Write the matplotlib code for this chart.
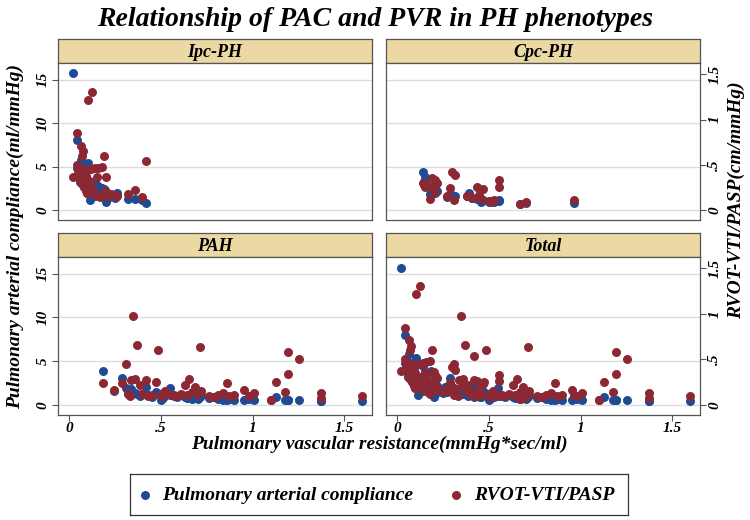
import matplotlib.pyplot as plt
import numpy as np

plt.rcParams['font.family'] = ['Liberation Serif', 'DejaVu Serif']
plt.rcParams['font.weight'] = 'bold'
plt.rcParams['font.style'] = 'italic'

# Ipc-PH : PVR, PAC, RVOT-VTI/PASP
ipc_pvr = [0.02, 0.127, 0.103, 0.045, 0.063, 0.076, 0.07, 0.19, 0.043, 0.42,
           0.20, 0.05, 0.08, 0.10, 0.12, 0.14, 0.16, 0.18, 0.06, 0.07,
           0.09, 0.11, 0.12, 0.13, 0.15, 0.09, 0.10, 0.116, 0.14, 0.17,
           0.196, 0.21, 0.26, 0.25, 0.32, 0.36, 0.395, 0.23, 0.08, 0.065]
ipc_pac = [15.7, 2.6, 5.4, 8.0, 5.8, 4.8, 3.5, 2.4, 4.8, 0.85,
           0.95, 5.2, 4.0, 3.6, 3.0, 3.3, 2.8, 2.5, 3.2, 3.7,
           2.9, 2.2, 1.8, 2.4, 2.0, 2.6, 1.9, 1.15, 1.6, 1.8,
           2.3, 1.4, 2.0, 1.4, 1.3, 1.3, 1.1, 1.6, 2.7, 4.4]
ipc_rvot = [0.37, 1.31, 1.22, 0.85, 0.71, 0.65, 0.60, 0.60, 0.50, 0.54,
            0.36, 0.43, 0.45, 0.44, 0.45, 0.46, 0.47, 0.48, 0.34, 0.29,
            0.38, 0.32, 0.27, 0.24, 0.36, 0.21, 0.19, 0.29, 0.17, 0.14,
            0.21, 0.16, 0.16, 0.15, 0.18, 0.22, 0.14, 0.18, 0.25, 0.31]

# Cpc-PH
cpc_pvr = [0.14, 0.153, 0.19, 0.207, 0.22, 0.145, 0.16, 0.19, 0.205, 0.18,
           0.30, 0.317, 0.29, 0.27, 0.31, 0.435, 0.47, 0.38, 0.41, 0.445,
           0.39, 0.455, 0.50, 0.555, 0.51, 0.53, 0.555, 0.67, 0.70, 0.965]
cpc_pac = [4.4, 3.8, 2.6, 2.4, 2.2, 3.2, 3.0, 2.1, 2.0, 1.8,
           1.7, 1.6, 1.8, 1.5, 1.5, 1.3, 1.2, 1.6, 1.4, 1.3,
           1.9, 0.95, 0.95, 1.07, 1.0, 0.9, 1.2, 0.7, 0.8, 0.75]
cpc_rvot = [0.30, 0.26, 0.35, 0.33, 0.30, 0.275, 0.275, 0.25, 0.20, 0.12,
            0.42, 0.385, 0.24, 0.15, 0.11, 0.26, 0.23, 0.15, 0.13, 0.165,
            0.16, 0.12, 0.10, 0.33, 0.09, 0.11, 0.26, 0.07, 0.085, 0.11]

# PAH
pah_pvr = [0.183, 0.247, 0.286, 0.31, 0.35, 0.368, 0.34, 0.36, 0.32, 0.33,
           0.387, 0.40, 0.42, 0.43, 0.45, 0.473, 0.483, 0.50, 0.51, 0.52,
           0.55, 0.57, 0.59, 0.61, 0.63, 0.64, 0.655, 0.67, 0.686, 0.70,
           0.713, 0.72, 0.76, 0.79, 0.81, 0.837, 0.858, 0.87, 0.90, 0.953,
           0.98, 1.007, 1.10, 1.125, 1.175, 1.194, 1.194, 1.25, 1.37, 1.37,
           1.594]
pah_pac = [3.9, 1.6, 3.05, 1.9, 1.5, 1.2, 1.8, 1.4, 1.3, 1.7,
           1.0, 1.3, 2.1, 1.1, 0.9, 1.5, 1.2, 0.6, 0.8, 1.4,
           1.9, 1.0, 0.9, 1.1, 0.9, 0.8, 0.95, 0.7, 0.8, 0.7,
           0.9, 1.1, 0.8, 0.9, 0.7, 0.6, 0.6, 0.7, 0.6, 0.6,
           0.7, 0.6, 0.6, 0.95, 0.55, 0.6, 0.55, 0.6, 0.45, 0.45,
           0.45]
pah_rvot = [0.245, 0.17, 0.245, 0.45, 0.98, 0.66, 0.27, 0.28, 0.13, 0.10,
            0.22, 0.12, 0.27, 0.10, 0.11, 0.255, 0.60, 0.10, 0.13, 0.15,
            0.11, 0.11, 0.10, 0.12, 0.22, 0.11, 0.29, 0.14, 0.20, 0.12,
            0.64, 0.15, 0.10, 0.09, 0.11, 0.135, 0.24, 0.10, 0.11, 0.16,
            0.10, 0.13, 0.055, 0.25, 0.145, 0.585, 0.34, 0.50, 0.13, 0.08,
            0.10]

titles = ['Ipc-PH', 'Cpc-PH', 'PAH', 'Total']
pvr = [ipc_pvr, cpc_pvr, pah_pvr, ipc_pvr + cpc_pvr + pah_pvr]
pac = [ipc_pac, cpc_pac, pah_pac, ipc_pac + cpc_pac + pah_pac]
rvot = [ipc_rvot, cpc_rvot, pah_rvot, ipc_rvot + cpc_rvot + pah_rvot]

blue = '#1f4b94'
red = '#8c2833'
W, H = 750, 520


def box(x0, y0, x1, y1):
    return [x0 / W, 1 - y1 / H, (x1 - x0) / W, (y1 - y0) / H]


fig = plt.figure(figsize=(7.5, 5.2), dpi=100)
fig.patch.set_facecolor('white')

xs = [(58, 372), (386, 700)]
ys = [(39, 63, 220), (233, 257, 415)]

for i in range(4):
    r, c = divmod(i, 2)
    x0, x1 = xs[c]
    h0, p0, p1 = ys[r]

    hd = fig.add_axes(box(x0, h0, x1, p0))
    hd.set_facecolor('#ecd8a3')
    hd.set_xticks([]), hd.set_yticks([])
    for s in hd.spines.values():
        s.set_color('#555555')
        s.set_linewidth(0.9)
    hd.text(0.5, 0.45, titles[i], ha='center', va='center', fontsize=13,
            transform=hd.transAxes)

    ax = fig.add_axes(box(x0, p0, x1, p1))
    ax.set_xlim(-0.06, 1.65)
    ax.set_ylim(-1.15, 16.9)
    ax.set_yticks([0, 5, 10, 15])
    ax.grid(axis='y', color='#dddddd', linewidth=1.0)
    ax.set_axisbelow(True)
    for s in ax.spines.values():
        s.set_color('#555555')
        s.set_linewidth(0.9)
    ax.scatter(pvr[i], pac[i], s=42, color=blue, linewidths=0, zorder=3)

    ax2 = ax.twinx()
    ax2.set_ylim(-0.11, 1.625)
    ax2.set_yticks([0, 0.5, 1, 1.5])
    ax2.scatter(pvr[i], rvot[i], s=42, color=red, linewidths=0, zorder=3)
    for s in ax2.spines.values():
        s.set_visible(False)

    ax.set_xticks([0, 0.5, 1, 1.5])
    if r == 1:
        ax.set_xticklabels(['0', '.5', '1', '1.5'], fontsize=11)
        ax.tick_params(axis='x', length=4, color='#555555', pad=1)
    else:
        ax.tick_params(axis='x', length=0, labelbottom=False)

    if c == 0:
        ax.set_yticklabels(['0', '5', '10', '15'], fontsize=11, rotation=90, va='center')
        ax.tick_params(axis='y', length=4, color='#555555', pad=2)
        ax2.tick_params(axis='y', length=0, labelright=False)
    else:
        ax.tick_params(axis='y', length=0, labelleft=False)
        ax2.set_yticklabels(['0', '.5', '1', '1.5'], fontsize=11, rotation=90, va='center')
        ax2.tick_params(axis='y', length=4, color='#555555', pad=2)

fig.text(0.5, 1 - 19 / H, 'Relationship of PAC and PVR in PH phenotypes',
         ha='center', va='center', fontsize=20)
fig.text(15 / W, 1 - 237 / H, 'Pulmonary arterial compliance(ml/mmHg)',
         rotation=90, ha='center', va='center', fontsize=14)
fig.text(736 / W, 1 - 200 / H, 'RVOT-VTI/PASP(cm/mmHg)',
         rotation=90, ha='center', va='center', fontsize=14)
fig.text(379 / W, 1 - 444 / H, 'Pulmonary vascular resistance(mmHg*sec/ml)',
         ha='center', va='center', fontsize=14)

# legend
lg = fig.add_axes(box(130, 474, 628, 515))
lg.set_xlim(0, 1), lg.set_ylim(0, 1)
lg.set_xticks([]), lg.set_yticks([])
for s in lg.spines.values():
    s.set_color('#333333')
    s.set_linewidth(0.9)
lg.scatter([0.03], [0.5], s=42, color=blue, linewidths=0)
lg.text(0.065, 0.48, 'Pulmonary arterial compliance', va='center', fontsize=14)
lg.scatter([0.655], [0.5], s=42, color=red, linewidths=0)
lg.text(0.69, 0.48, 'RVOT-VTI/PASP', va='center', fontsize=14)

fig.savefig('out.png', dpi=100)
